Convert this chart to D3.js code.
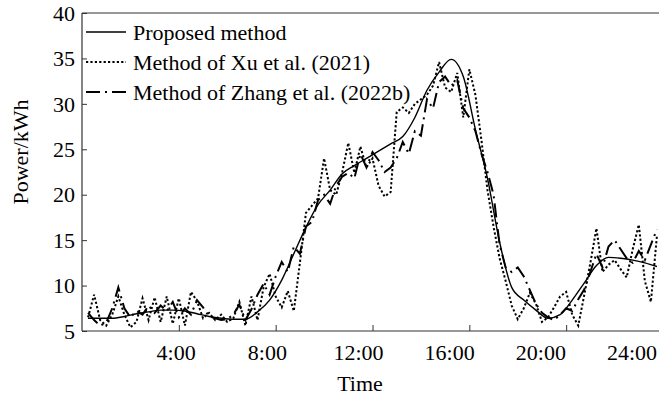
<!DOCTYPE html>
<html>
<head>
<meta charset="utf-8">
<script src="https://cdn.jsdelivr.net/npm/d3@7"></script>
<style>
  body { margin: 0; background: #fff; }
  svg { display: block; font-family: "Liberation Serif", "Times New Roman", serif; }
</style>
</head>
<body>
<svg width="659" height="397"></svg>
<script>
// time grids (hours)
const timesFine = d3.range(0.25, 23.76, 0.25);
const timesProposed = d3.range(0.25, 23.76, 0.5);

const proposed = [6.4, 6.4, 6.4, 6.6, 6.9, 7.1, 7.3, 7.3, 7.2, 6.9, 6.6, 6.4,
  6.3, 6.3, 7.1, 8.4, 10.6, 13.5, 16.4, 18.9, 20.5, 22.3, 23.2, 24.0,
  24.8, 25.6, 26.4, 28.5, 31.5, 33.5, 34.9, 33.0, 27.2, 21.8, 14.8, 9.8,
  8.4, 7.3, 6.4, 6.8, 8.4, 10.3, 12.2, 13.1, 13.0, 12.8, 12.5, 12.1];

const xu = [6.5, 9.0, 6.2, 5.6, 6.8, 8.8, 6.8, 5.4, 6.0, 8.6, 6.2, 8.7,
  6.0, 8.8, 5.8, 8.6, 5.6, 9.3, 8.3, 6.4, 7.0, 6.2, 6.8, 6.0,
  6.4, 8.2, 5.6, 8.8, 6.2, 9.8, 11.3, 8.8, 7.6, 9.4, 7.2, 12.5,
  18.0, 18.8, 19.6, 24.0, 20.5, 20.0, 22.5, 25.7, 22.4, 25.3, 23.0, 24.0,
  21.0, 19.8, 20.3, 29.1, 29.6, 29.0, 30.0, 30.5, 31.0, 32.0, 34.6, 31.8,
  31.3, 33.4, 28.5, 33.8, 31.0, 26.0, 20.5, 16.5, 13.0, 10.5, 7.8, 6.3,
  7.5, 9.2, 8.0, 6.0, 6.5, 7.6, 8.8, 9.3, 6.8, 5.6, 9.0, 12.5,
  16.3, 11.5, 12.3, 12.8, 11.8, 10.9, 14.0, 16.7, 10.5, 8.2, 15.5];

const zhang = [7.0, 6.2, 5.6, 5.9, 7.5, 9.8, 7.5, 6.5, 7.2, 6.8, 7.8, 7.0,
  7.8, 7.2, 8.2, 6.5, 7.5, 6.8, 8.4, 7.6, 6.6, 6.4, 6.2, 6.3,
  6.8, 7.9, 6.2, 7.4, 9.0, 10.2, 9.0, 11.0, 12.6, 11.5, 14.3, 13.5,
  16.5, 17.0, 19.4, 20.0, 19.0, 21.0, 22.0, 22.4, 21.8, 24.5, 23.0, 24.7,
  23.8, 22.5, 23.0, 24.0, 25.8, 24.5, 27.0, 26.5, 30.5, 29.5, 32.4, 33.0,
  32.0, 32.6, 29.5, 28.5, 27.0, 24.5, 22.5, 20.0, 14.5, 12.0, 11.5, 12.0,
  11.0, 9.5, 8.0, 7.0, 6.5, 6.2, 6.8, 7.5, 7.2, 8.5, 9.6, 11.5,
  13.5, 12.0, 14.3, 15.0, 14.0, 13.0, 12.5, 13.8, 12.8, 14.5, 16.2];

const yTicks = [5, 10, 15, 20, 25, 30, 35, 40];
const xTicks = [4, 8, 12, 16, 20, 24];
const xTickLabels = ["4:00", "8:00", "12:00", "16:00", "20:00", "24:00"];
const legendNames = ["Proposed method", "Method of Xu et al. (2021)", "Method of Zhang et al. (2022b)"];

const svg = d3.select("svg");
const x0 = 82, x1 = 663, yTop = 13, yBottom = 331;

const x = d3.scaleLinear().domain([0, 24]).range([x0, x1]);
// tick labels in the figure sit on a slightly narrower spacing than the ticks
const xLab = d3.scaleLinear().domain([0, 24]).range([85, 632]);
const y = d3.scaleLinear().domain([5, 40]).range([yBottom, yTop]);

const axisColor = "#333";

svg.append("defs").append("clipPath").attr("id", "plot")
  .append("rect").attr("x", x0).attr("y", yTop).attr("width", 659 - x0).attr("height", yBottom - yTop);

// frame
svg.append("line").attr("x1", x0).attr("x2", 659).attr("y1", yTop).attr("y2", yTop)
  .attr("stroke", axisColor).attr("stroke-width", 1.2);
svg.append("line").attr("x1", x0).attr("x2", 659).attr("y1", yBottom).attr("y2", yBottom)
  .attr("stroke", axisColor).attr("stroke-width", 1.2);
svg.append("line").attr("x1", x0).attr("x2", x0).attr("y1", yTop).attr("y2", yBottom)
  .attr("stroke", axisColor).attr("stroke-width", 1.2);

// y axis, ticks inward
const yAxis = svg.append("g").attr("transform", `translate(${x0},0)`)
  .call(d3.axisRight(y).tickValues(yTicks).tickSize(5).tickFormat(""));
yAxis.select(".domain").remove();
yAxis.selectAll("line").attr("stroke", axisColor);
svg.append("g").selectAll("text").data(yTicks).join("text")
  .attr("x", 75).attr("y", d => y(d)).attr("dy", "0.35em")
  .attr("text-anchor", "end").attr("font-size", 22).text(d => d);

// x axis, ticks inward
const xAxis = svg.append("g").attr("transform", `translate(0,${yBottom})`)
  .call(d3.axisTop(x).tickValues(xTicks).tickSize(6).tickFormat(""));
xAxis.select(".domain").remove();
xAxis.selectAll("line").attr("stroke", axisColor);
svg.append("g").selectAll("text").data(xTicks).join("text")
  .attr("x", d => xLab(d)).attr("y", yBottom + 21).attr("dy", "0.35em")
  .attr("text-anchor", "middle").attr("font-size", 22)
  .text((d, i) => xTickLabels[i]);

svg.append("text").attr("x", 360).attr("y", 383).attr("dy", "0.35em")
  .attr("text-anchor", "middle").attr("font-size", 22).text("Time");
svg.append("text").attr("transform", "translate(20,152) rotate(-90)").attr("dy", "0.35em")
  .attr("text-anchor", "middle").attr("font-size", 22).text("Power/kWh");

const styles = [
  { width: 1.4, dash: null },
  { width: 2, dash: "2.2,2.2" },
  { width: 2, dash: "14,5,2,5" }
];

const line = d3.line().x(d => x(d[0])).y(d => y(d[1]));
const plot = svg.append("g").attr("clip-path", "url(#plot)").attr("fill", "none").attr("stroke", "#000");

plot.append("path").datum(d3.zip(timesProposed, proposed))
  .attr("d", line.curve(d3.curveMonotoneX))
  .attr("stroke-width", styles[0].width);
plot.append("path").datum(d3.zip(timesFine, xu))
  .attr("d", line.curve(d3.curveLinear))
  .attr("stroke-width", styles[1].width).attr("stroke-dasharray", styles[1].dash);
plot.append("path").datum(d3.zip(timesFine, zhang))
  .attr("d", line.curve(d3.curveLinear))
  .attr("stroke-width", styles[2].width).attr("stroke-dasharray", styles[2].dash);

// legend
const legend = svg.append("g").selectAll("g").data(legendNames).join("g")
  .attr("transform", (d, i) => `translate(0,${32 + i * 30})`);
legend.append("line").attr("x1", 86).attr("x2", 126)
  .attr("stroke", "#000")
  .attr("stroke-width", (d, i) => styles[i].width)
  .attr("stroke-dasharray", (d, i) => styles[i].dash);
legend.append("text").attr("x", 133).attr("dy", "0.35em").attr("font-size", 22).text(d => d);
</script>
</body>
</html>
